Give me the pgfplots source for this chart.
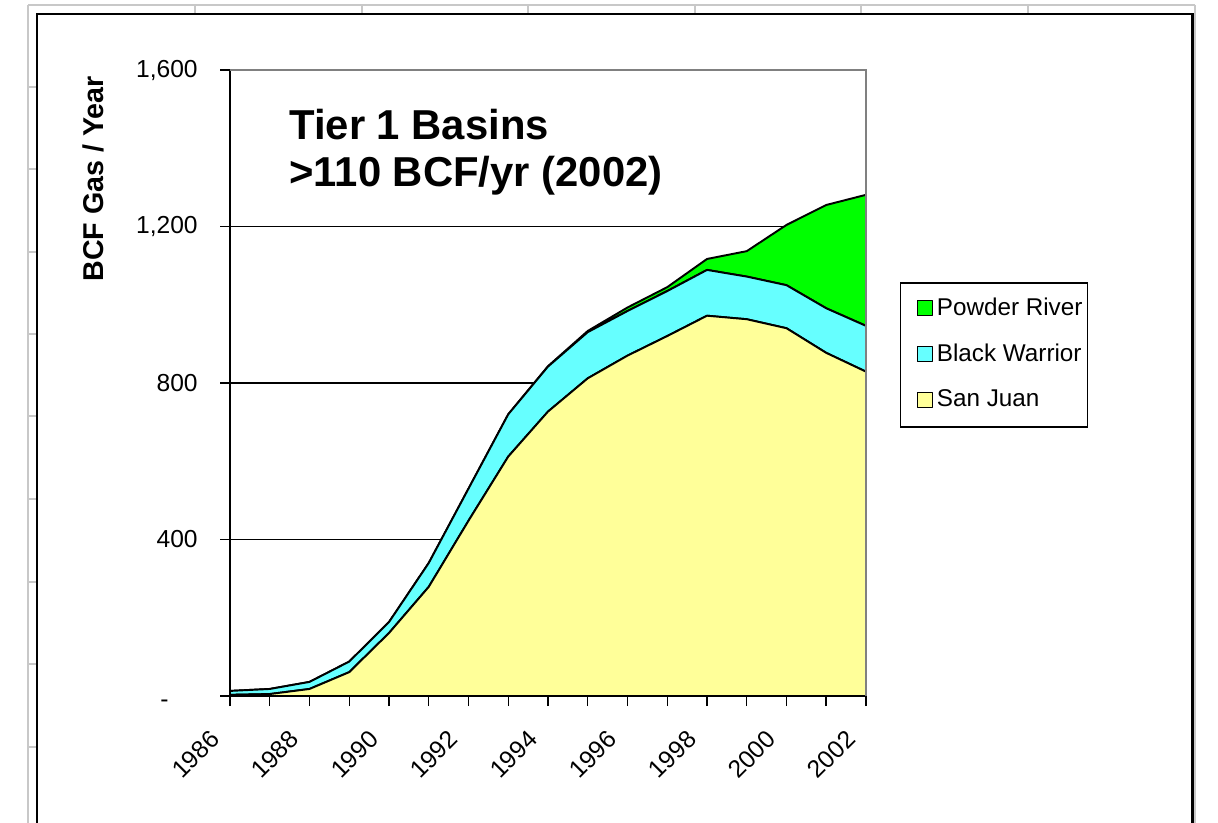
\documentclass[border=0pt]{standalone}
\usepackage{pgfplots}
\pgfplotsset{compat=1.18}
\usepackage{fontspec}
\setmainfont{Liberation Sans}
\definecolor{sjyellow}{HTML}{FFFF99}
\definecolor{bwcyan}{HTML}{66FFFF}
\definecolor{prgreen}{HTML}{00FF00}
\definecolor{sheetgray}{HTML}{C8C8C8}
\definecolor{bordergray}{HTML}{808080}
\begin{document}
\begin{tikzpicture}
\useasboundingbox (0,0) rectangle (24.36cm,-16.46cm);
\begin{scope}[x=0.02cm,y=-0.02cm]
 \clip (0,0) rectangle (1218,823);
 \draw[sheetgray, line width=0.04cm] (28,5) -- (1195,5);
 \draw[sheetgray, line width=0.04cm] (28,5) -- (28,830);
 \draw[sheetgray, line width=0.04cm] (1195,5) -- (1195,830);
 \foreach \x in {195,362,528,695,861,1028} \draw[sheetgray, line width=0.04cm] (\x,5) -- (\x,14);
 \foreach \y in {87,169,252,334,416,499,582,664,747} \draw[sheetgray, line width=0.04cm] (28,\y) -- (37,\y);
 \draw[black, line width=0.05cm] (37,830) -- (37,14) -- (1192,14) -- (1192,830);
\end{scope}
\begin{axis}[
  at={(4.6cm,-13.92cm)}, anchor=south west,
  scale only axis, width=12.72cm, height=12.52cm,
  xmin=1986, xmax=2002, ymin=0, ymax=1600,
  stack plots=y, clip=false,
  axis x line*=bottom, axis y line*=left,
  axis line style={black, line width=0.8pt},
  tick align=outside, major tick length=0.2cm,
  tick style={black, line width=0.8pt},
  xtick={1986,...,2002},
  xticklabels={1986,,1988,,1990,,1992,,1994,,1996,,1998,,2000,,2002},
  ytick={0,400,800,1200,1600},
  yticklabels={{\raisebox{-0.22cm}[0pt][0pt]{-}\hspace*{0.58cm}},400,800,{1,200},{1,600}},
  ymajorgrids, grid style={black, line width=0.6pt},
  tick label style={font=\fontsize{14}{16}\selectfont, inner sep=0pt},
  yticklabel style={anchor=east, xshift=-0.44cm},
  xticklabel style={xshift=-0.30cm, yshift=-0.58cm, rotate=45, anchor=east},
  ylabel={BCF Gas / Year},
  ylabel style={at={(axis description cs:-0.215,0.826)}, anchor=center,
    font=\bfseries\fontsize{16.3}{19}\selectfont},
  reverse legend,
  legend cell align=left,
  legend image code/.code={\path (0cm,0cm); \draw[#1, draw=black, line width=0.6pt] (0.22cm,-0.13cm) rectangle (0.52cm,0.17cm);},
  legend style={at={(axis description cs:1.053,0.661)}, anchor=north west,
    draw=black, line width=0.8pt, font=\fontsize{13.8}{16}\selectfont,
    inner xsep=0.1cm, inner ysep=0.3cm, row sep=0.47cm, column sep=0.08cm,
    nodes={inner sep=0pt, text depth=0.1cm}},
]
\draw[bordergray, line width=0.03cm] (rel axis cs:0,1) -- (rel axis cs:1,1) -- (rel axis cs:1,0);
\addplot[fill=sjyellow, draw=black, line width=1.1pt, line join=round] coordinates {
 (1986,3) (1987,5) (1988,18) (1989,61) (1990,161) (1991,279) (1992,448) (1993,612)
 (1994,727) (1995,812) (1996,870) (1997,920) (1998,972) (1999,963) (2000,940) (2001,877) (2002,829)
} \closedcycle;
\addlegendentry{San Juan}
\addplot[fill=bwcyan, draw=black, line width=1.1pt, line join=round] coordinates {
 (1986,10) (1987,13) (1988,18) (1989,27) (1990,28) (1991,61) (1992,82) (1993,108)
 (1994,115) (1995,118) (1996,114) (1997,115) (1998,117) (1999,109) (2000,110) (2001,114) (2002,117)
} \closedcycle;
\addlegendentry{Black Warrior}
\addplot[fill=prgreen, draw=black, line width=1.1pt, line join=round] coordinates {
 (1986,0) (1987,0) (1988,0) (1989,0) (1990,0) (1991,0) (1992,0) (1993,0)
 (1994,1) (1995,3) (1996,9) (1997,10) (1998,28) (1999,65) (2000,154) (2001,264) (2002,335)
} \closedcycle;
\addlegendentry{Powder River}
\node[anchor=north west, align=left, inner sep=0pt,
  font=\bfseries\fontsize{23.8}{27.2}\selectfont]
  at (axis description cs:0.0928,0.9387) {Tier 1 Basins\\>110 BCF/yr (2002)};
\end{axis}
\end{tikzpicture}
\end{document}
